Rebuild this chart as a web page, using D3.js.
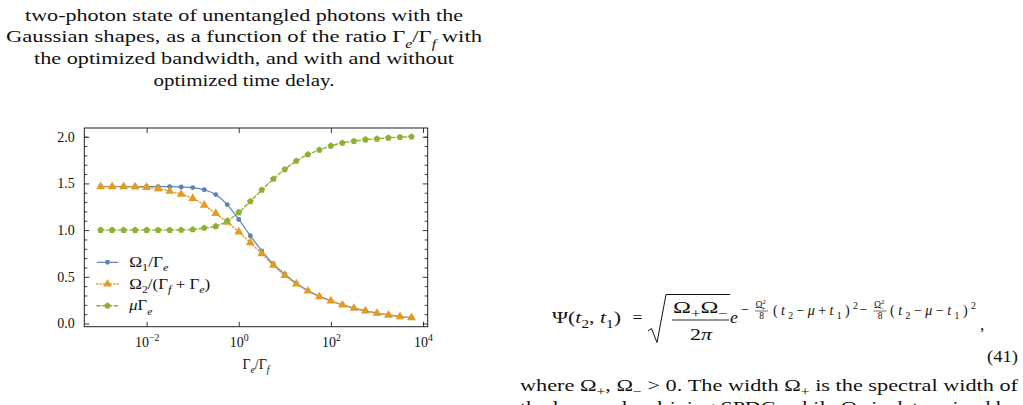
<!DOCTYPE html>
<html>
<head>
<meta charset="utf-8"/>
<script src="https://cdn.jsdelivr.net/npm/d3@7"></script>
<style>
  body { margin:0; background:#fff; }
  svg text { font-family: "Liberation Serif", "Times New Roman", serif; fill:#111; }
</style>
</head>
<body>
<svg id="page" width="1023" height="405"></svg>
<script>
// ratio Γe/Γf as powers of ten
var logRatio = [-3, -2.75, -2.5, -2.25, -2, -1.75, -1.5, -1.25, -1, -0.75, -0.5, -0.25,
                0, 0.25, 0.5, 0.75, 1, 1.25, 1.5, 1.75, 2, 2.25, 2.5, 2.75, 3, 3.25, 3.5, 3.75];
// Ω1/Γe
var omega1 = [1.466, 1.466, 1.466, 1.466, 1.466, 1.465, 1.465, 1.462, 1.455, 1.432, 1.38, 1.273,
              1.114, 0.94, 0.777, 0.637, 0.527, 0.43, 0.352, 0.29, 0.243, 0.2, 0.165, 0.136,
              0.111, 0.092, 0.075, 0.063];
// Ω2/(Γf+Γe)
var omega2 = [1.466, 1.466, 1.465, 1.462, 1.457, 1.443, 1.417, 1.385, 1.34, 1.268, 1.178, 1.084,
              0.98, 0.866, 0.748, 0.624, 0.515, 0.423, 0.348, 0.287, 0.241, 0.198, 0.163, 0.134,
              0.109, 0.09, 0.073, 0.062];
// μΓe
var muGamma = [1.0, 1.0, 1.0, 1.0, 1.0, 1.0, 1.0, 1.001, 1.006, 1.022, 1.04, 1.1,
               1.19, 1.307, 1.43, 1.547, 1.65, 1.74, 1.809, 1.859, 1.902, 1.934, 1.952, 1.969,
               1.977, 1.988, 1.995, 2.0];

var yTicks = [0, 0.5, 1.0, 1.5, 2.0];
var yMinor = [0.1, 0.2, 0.3, 0.4, 0.6, 0.7, 0.8, 0.9, 1.1, 1.2, 1.3, 1.4, 1.6, 1.7, 1.8, 1.9, 2.0];
var xTicks = [1e-2, 1e0, 1e2, 1e4];
var xTickExp = ["−2", "0", "2", "4"];

var captionLines = [
  [["two-photon state of unentangled photons with the"]],
  [["Gaussian shapes, as a function of the ratio Γ"], ["e", "_i"], ["/Γ"], ["f", "_i"], [" with"]],
  [["the optimized bandwidth, and with and without"]],
  [["optimized time delay."]]
];

var svg = d3.select("#page");
svg.append("rect").attr("width", 1023).attr("height", 405).attr("fill", "#fff");

// writes a run of pieces: flags i = italic, _ = subscript, ^ = superscript
function rich(sel, parts, size) {
  var off = 0;
  parts.forEach(function (p) {
    var f = p[1] || "";
    var t = sel.append("tspan").text(p[0]);
    var target = f.indexOf("_") >= 0 ? size * 0.3 : (f.indexOf("^") >= 0 ? -size * 0.4 : 0);
    if (target !== off) { t.attr("dy", target - off); off = target; }
    if (target !== 0) t.style("font-size", (size * 0.7) + "px");
    if (f.indexOf("i") >= 0) t.style("font-style", "italic");
    if (p[2]) t.attr("dx", p[2]);
  });
  return sel;
}
function fit(sel, w, how) {
  return sel.attr("textLength", w).attr("lengthAdjust", how || "spacingAndGlyphs");
}

// caption
var capY = [20.5, 42.3, 64, 85.8], capW = [438, 476, 420, 181];
captionLines.forEach(function (line, k) {
  var t = svg.append("text").attr("x", 244).attr("y", capY[k])
    .attr("text-anchor", "middle").style("font-size", "17.5px");
  rich(t, line, 17.5);
  fit(t, capW[k]);
});

// chart frame
var pLeft = 84.3, pRight = 427.7, pTop = 128, pBottom = 326.7;
var x = d3.scaleLog().domain([Math.pow(10, -3.3536), Math.pow(10, 4.102)]).range([pLeft, pRight]);
var y = d3.scaleLinear().domain([-0.0343, 2.0932]).range([pBottom, pTop]);

var g = svg.append("g").style("color", "#222");

function axis(a, tr) {
  var s = g.append("g").attr("transform", tr).call(a);
  s.select(".domain").remove();
  s.selectAll("line").attr("stroke-width", 0.9);
  return s;
}
axis(d3.axisLeft(y).tickValues(yMinor).tickSize(-3).tickFormat(""), "translate(" + pLeft + ",0)");
axis(d3.axisRight(y).tickValues(yMinor).tickSize(-3).tickFormat(""), "translate(" + pRight + ",0)");
axis(d3.axisRight(y).tickValues(yTicks).tickSize(-5).tickFormat(""), "translate(" + pRight + ",0)");
var yl = axis(d3.axisLeft(y).tickValues(yTicks).tickSize(-5).tickPadding(9.5)
  .tickFormat(d3.format(".1f")), "translate(" + pLeft + ",0)");
yl.selectAll("text").style("font-size", "14px").attr("font-family", null).attr("fill", "#111");

axis(d3.axisTop(x).tickValues(xTicks).tickSize(-5).tickFormat(""), "translate(0," + pTop + ")");
var xl = axis(d3.axisBottom(x).tickValues(xTicks).tickSize(-5).tickPadding(10)
  .tickFormat(""), "translate(0," + pBottom + ")");
xl.selectAll("text").style("font-size", "14px").attr("font-family", null).attr("fill", "#111")
  .each(function (d, i) { rich(d3.select(this), [["10"], [xTickExp[i], "^"]], 14); });

g.append("rect").attr("x", pLeft).attr("y", pTop).attr("width", pRight - pLeft).attr("height", pBottom - pTop)
  .attr("fill", "none").attr("stroke", "#222").attr("stroke-width", 1);

var xl2 = svg.append("text").attr("x", (pLeft + pRight) / 2).attr("y", 369)
  .attr("text-anchor", "middle").style("font-size", "14px");
rich(xl2, [["Γ"], ["e", "_i"], ["/Γ"], ["f", "_i"]], 14);

// series
var symbolPentagon = {
  draw: function (ctx, size) {
    var r = Math.sqrt(size / 2.378);
    for (var k = 0; k < 5; k++) {
      var a = -Math.PI / 2 + k * 2 * Math.PI / 5;
      if (k === 0) ctx.moveTo(r * Math.cos(a), r * Math.sin(a));
      else ctx.lineTo(r * Math.cos(a), r * Math.sin(a));
    }
    ctx.closePath();
  }
};

var series = [
  { vals: omega1, color: "#5E81B5", dash: null, width: 1.2, sym: d3.symbolCircle, size: 19,
    label: [["Ω"], ["1", "_"], ["/Γ"], ["e", "_i"]] },
  { vals: omega2, color: "#E19C24", dash: "1.1,2.3", width: 1.5, sym: d3.symbolTriangle, size: 34,
    label: [["Ω"], ["2", "_"], ["/(Γ"], ["f", "_i"], [" + Γ"], ["e", "_i"], [")"]] },
  { vals: muGamma, color: "#8FB032", dash: "3.5,2.3", width: 1.4, sym: symbolPentagon, size: 29,
    label: [["μ", "i"], ["Γ"], ["e", "_i"]] }
];

var line = d3.line()
  .x(function (d, i) { return x(Math.pow(10, logRatio[i])); })
  .y(function (d) { return y(d); })
  .curve(d3.curveMonotoneX);

series.forEach(function (s) {
  g.append("path").datum(s.vals).attr("d", line)
    .attr("fill", "none").attr("stroke", s.color).attr("stroke-width", s.width)
    .attr("stroke-dasharray", s.dash).attr("stroke-linecap", s.dash ? "round" : "butt");
  g.selectAll(null).data(s.vals).enter().append("path")
    .attr("d", d3.symbol().type(s.sym).size(s.size))
    .attr("transform", function (d, i) {
      return "translate(" + x(Math.pow(10, logRatio[i])) + "," + y(d) + ")";
    })
    .attr("fill", s.color);
});

// legend
var legY = [262.3, 284, 305.8], legW = [39, 81, 23];
series.forEach(function (s, k) {
  var lg = svg.append("g").attr("transform", "translate(96.7," + legY[k] + ")");
  lg.append("line").attr("x1", 0).attr("x2", 21.6)
    .attr("stroke", s.color).attr("stroke-width", s.width)
    .attr("stroke-dasharray", s.dash).attr("stroke-linecap", s.dash ? "round" : "butt");
  lg.append("path").attr("d", d3.symbol().type(s.sym).size(s.size)())
    .attr("transform", "translate(10.8,0)").attr("fill", s.color);
  var t = lg.append("text").attr("x", 32.6).attr("y", 4.6).style("font-size", "14px");
  rich(t, s.label, 14);
  fit(t, legW[k]);
});

// right column: equation (41) and text
var eq = svg.append("g");
var t1 = eq.append("text").attr("x", 552).attr("y", 323).style("font-size", "17.5px");
rich(t1, [["Ψ("], ["t", "i"], ["2", "_"], [", "], ["t", "i"], ["1", "_"], [")"]], 17.5);
fit(t1, 69);
eq.append("text").attr("x", 637.5).attr("y", 323).attr("text-anchor", "middle")
  .style("font-size", "17.5px").text("=");
eq.append("path").attr("d", "M648,331 L651.5,328.5 L657,342.5 L666,294.5 H730")
  .attr("fill", "none").attr("stroke", "#111").attr("stroke-width", 1);
var num = eq.append("text").attr("x", 700.5).attr("y", 313).attr("text-anchor", "middle")
  .style("font-size", "17.5px");
rich(num, [["Ω"], ["+", "_"], ["Ω"], ["−", "_"]], 17.5);
fit(num, 55);
eq.append("line").attr("x1", 672).attr("x2", 729).attr("y1", 320).attr("y2", 320)
  .attr("stroke", "#111").attr("stroke-width", 0.9);
var den = eq.append("text").attr("x", 701).attr("y", 339.5).attr("text-anchor", "middle")
  .style("font-size", "17.5px");
rich(den, [["2"], ["π", "i"]], 17.5);
fit(den, 22);
eq.append("text").attr("x", 730).attr("y", 323).style("font-size", "17.5px")
  .style("font-style", "italic").text("e");

// exponent
var ex = 14, exY = 315;
eq.append("text").attr("x", 741).attr("y", exY - 1).style("font-size", ex + "px").text("−");
function smallFrac(cx, sign) {
  var n = eq.append("text").attr("x", cx - 6).attr("y", 308).style("font-size", "9.5px");
  rich(n, [["Ω"], ["2", "^"], [sign, "_", -4.4]], 9.5);
  eq.append("line").attr("x1", cx - 6.5).attr("x2", cx + 6.5).attr("y1", 311).attr("y2", 311)
    .attr("stroke", "#111").attr("stroke-width", 0.6);
  eq.append("text").attr("x", cx).attr("y", 319).attr("text-anchor", "middle")
    .style("font-size", "9.5px").text("8");
}
smallFrac(761.5, "+");
var p1 = eq.append("text").attr("x", 773).attr("y", exY).style("font-size", ex + "px");
rich(p1, [["("], ["t", "i"], ["2", "_"], ["−"], ["μ", "i"], ["+"], ["t", "i"], ["1", "_"], [")"], ["2", "^"]], ex);
fit(p1, 85, "spacing");
eq.append("text").attr("x", 859.5).attr("y", exY - 1).style("font-size", ex + "px").text("−");
smallFrac(880, "−");
var p2 = eq.append("text").attr("x", 890).attr("y", exY).style("font-size", ex + "px");
rich(p2, [["("], ["t", "i"], ["2", "_"], ["−"], ["μ", "i"], ["−"], ["t", "i"], ["1", "_"], [")"], ["2", "^"]], ex);
fit(p2, 86, "spacing");
eq.append("text").attr("x", 980).attr("y", 330).style("font-size", "17.5px").text(",");

fit(svg.append("text").attr("x", 1018).attr("y", 362).attr("text-anchor", "end")
  .style("font-size", "17.5px").text("(41)"), 31);

var w1 = svg.append("text").attr("x", 520).attr("y", 391).style("font-size", "17.5px");
rich(w1, [["where Ω"], ["+", "_"], [", Ω"], ["−", "_"], [" > 0.  The width Ω"], ["+", "_"],
          [" is the spectral width of"]], 17.5);
fit(w1, 498);
var w2 = svg.append("text").attr("x", 520).attr("y", 413).style("font-size", "17.5px");
rich(w2, [["the laser pulse driving SPDC, while Ω"], ["−", "_"], [" is determined by"]], 17.5);
fit(w2, 498);
</script>
</body>
</html>
